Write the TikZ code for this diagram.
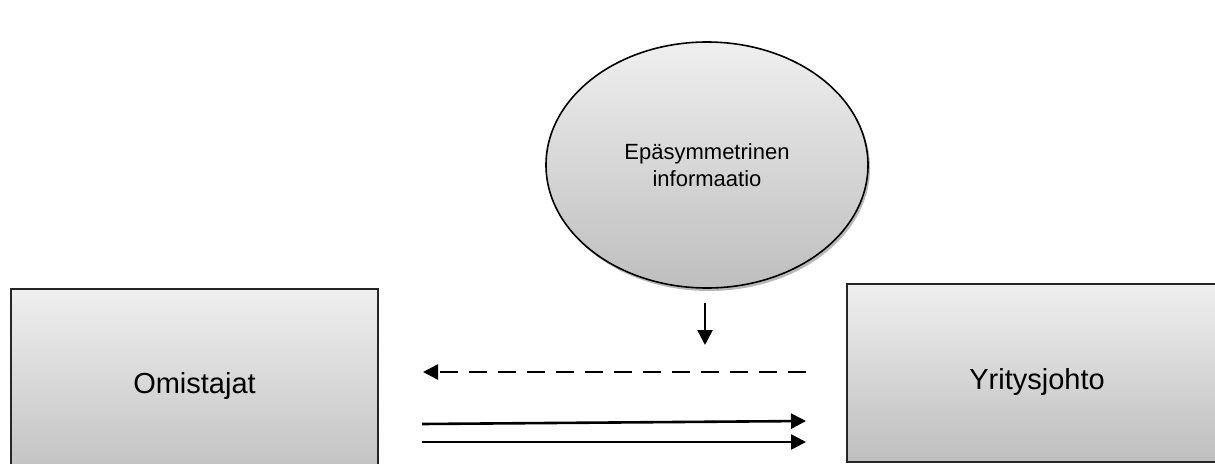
\documentclass[tikz,border=0pt]{standalone}
\usepackage{fontspec}
\setmainfont{Liberation Sans}
\usetikzlibrary{shapes.geometric,arrows.meta,shadows}
\definecolor{gtop}{HTML}{EFEFEF}
\definecolor{gbot}{HTML}{BEBEBE}
\tikzset{
  boxstyle/.style={draw=black!85, line width=2.2pt, rectangle, top color=gtop, bottom color=gbot, inner sep=0pt},
  bigtext/.style={font=\fontsize{29}{35}\selectfont, inner sep=0pt},
  conn/.style={line width=2.6pt, -{Triangle[length=15pt,width=15pt]}},
  dashconn/.style={conn, dash pattern=on 18pt off 11pt},
}
\begin{document}
\begin{tikzpicture}[x=1pt,y=-1pt]
\useasboundingbox (0,0) rectangle (1215,463);
\clip (0,0) rectangle (1215,463);
% boxes
\node[boxstyle, minimum width=367pt, minimum height=200pt] (own) at (194.5,389) {};
\node[bigtext] (ownt) at (194.5,386) {Omistajat};
\node[boxstyle, minimum width=380pt, minimum height=178pt] (mgmt) at (1037,373) {};
\node[bigtext] (mgmtt) at (1037,382) {Yritysjohto};
% ellipse
\node[ellipse, draw=black, line width=1.6pt, top color=gtop, bottom color=gbot,
      minimum width=322pt, minimum height=246pt, inner sep=0pt, align=center,
      font=\fontsize{22}{27}\selectfont,
      drop shadow={shadow xshift=2pt, shadow yshift=-3pt, opacity=0.55}] (info) at (707,165)
      {Epäsymmetrinen\\informaatio};
% arrow coordinates
\coordinate (d1) at (705,303);
\coordinate (d2) at (705,345);
\coordinate (a1) at (806,372);
\coordinate (a2) at (423,372);
\coordinate (b1) at (422,424);
\coordinate (b2) at (806,421);
\coordinate (c1) at (422,442);
\coordinate (c2) at (806,442);
\draw[conn] (d1) -- (d2);
\draw[dashconn] (a1) -- (a2);
\draw[conn] (b1) -- (b2);
\draw[conn] (c1) -- (c2);
\end{tikzpicture}
\end{document}
